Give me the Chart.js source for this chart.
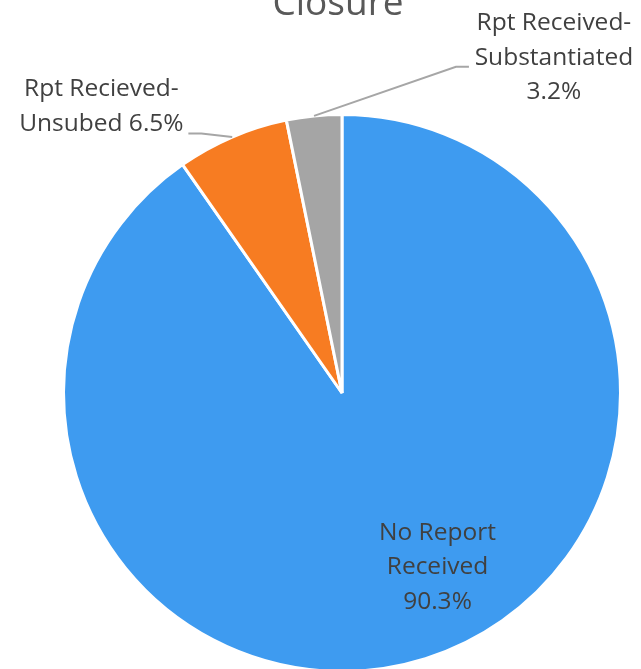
<!DOCTYPE html>
<html>
<head>
<meta charset="utf-8">
<script src="https://cdn.jsdelivr.net/npm/chart.js@4.4.0/dist/chart.umd.min.js"></script>
<style>
  html, body { margin: 0; padding: 0; background: #fff; overflow: hidden; }
  #wrap { position: absolute; left: 0; top: 0; width: 641px; height: 700px; }
</style>
</head>
<body>
<div id="wrap"><canvas id="pieChart"></canvas></div>
<script>
// dati del grafico
const categories = ['No Report Received', 'Rpt Recieved-Unsubed', 'Rpt Received-Substantiated'];
const values = [90.3, 6.5, 3.2];
const labelLines = [
  ['No Report', 'Received', '90.3%'],
  ['Rpt Recieved-', 'Unsubed 6.5%'],
  ['Rpt Received-', 'Substantiated', '3.2%']
];
const colors = ['#3E9BF0', '#F77C22', '#A5A5A5'];

// posizione etichette (in raggi, rispetto al centro) e fine della linea guida (px rispetto all'etichetta)
const labelPos = [[0.343, 0.625], [-0.864, -1.029], [0.761, -1.204]];
const leaderEnd = [null, [87, 27], [-85, 9]];

const labelPlugin = {
  id: 'pieLabels',
  afterDatasetsDraw(chart) {
    const ctx = chart.ctx;
    const arcs = chart.getDatasetMeta(0).data;
    const cx = arcs[0].x, cy = arcs[0].y, r = arcs[0].outerRadius;

    ctx.save();
    // titolo (tagliato in alto come nell'originale)
    ctx.fillStyle = '#595959';
    ctx.font = '37px "Open Sans", sans-serif';
    ctx.textAlign = 'center';
    ctx.textBaseline = 'alphabetic';
    ctx.fillText('Closure', cx - 4, 15);

    ctx.font = '24.5px "Open Sans", sans-serif';
    ctx.textBaseline = 'middle';
    arcs.forEach((arc, i) => {
      const lx = cx + labelPos[i][0] * r;
      const ly = cy + labelPos[i][1] * r;
      if (leaderEnd[i]) {
        const mid = (arc.startAngle + arc.endAngle) / 2;
        const ax = cx + Math.cos(mid) * arc.outerRadius;
        const ay = cy + Math.sin(mid) * arc.outerRadius;
        const ex = lx + leaderEnd[i][0];
        const ey = ly + leaderEnd[i][1];
        const ox = ex + (ax > ex ? 13 : -13);
        ctx.strokeStyle = '#A6A6A6';
        ctx.lineWidth = 2;
        ctx.beginPath();
        ctx.moveTo(ax, ay);
        ctx.lineTo(ox, ey);
        ctx.lineTo(ex, ey);
        ctx.stroke();
      }
      const lines = labelLines[i];
      const lh = 34.5;
      ctx.fillStyle = '#404040';
      lines.forEach((t, k) => {
        ctx.fillText(t, lx, ly + (k - (lines.length - 1) / 2) * lh);
      });
    });
    ctx.restore();
  }
};

new Chart(document.getElementById('pieChart'), {
  type: 'pie',
  data: {
    labels: categories,
    datasets: [{
      data: values,
      backgroundColor: colors,
      borderColor: '#ffffff',
      borderWidth: 3
    }]
  },
  options: {
    responsive: true,
    maintainAspectRatio: false,
    animation: false,
    layout: { padding: { top: 113, bottom: 27, left: 62, right: 19 } },
    plugins: {
      legend: { display: false },
      tooltip: { enabled: false }
    }
  },
  plugins: [labelPlugin]
});
</script>
</body>
</html>
